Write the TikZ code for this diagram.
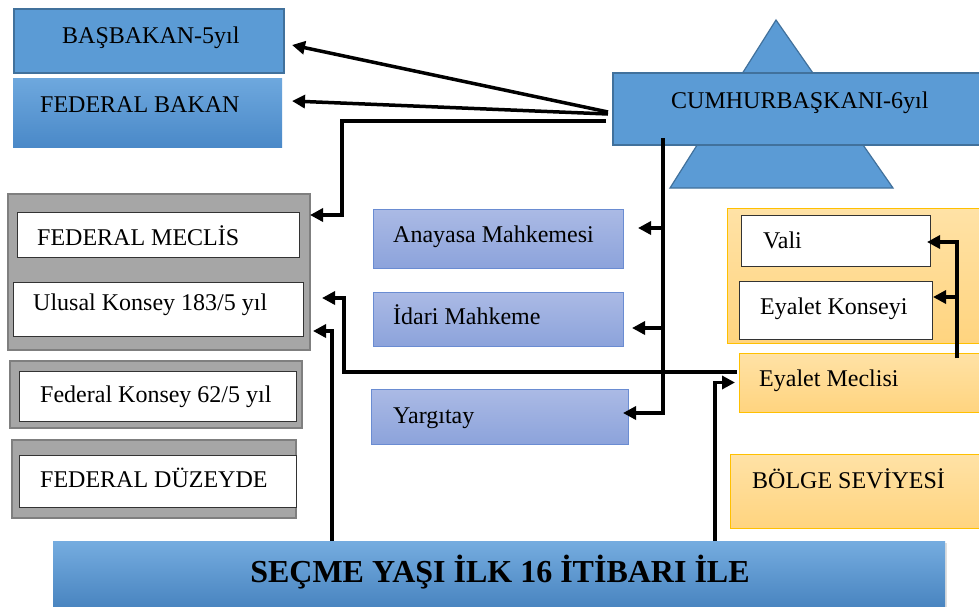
\documentclass[tikz,border=0pt]{standalone}
\usepackage{fontspec}
\setmainfont{Liberation Serif}
\usetikzlibrary{arrows.meta,calc,shadows}
\definecolor{blueA}{HTML}{5B9BD5}
\definecolor{blueAd}{HTML}{41719C}
\definecolor{blueT}{HTML}{6EA8DE}
\definecolor{blueB}{HTML}{4A89C8}
\definecolor{lavT}{HTML}{ABBAE5}
\definecolor{lavB}{HTML}{8CA3DB}
\definecolor{lavD}{HTML}{6A8CD2}
\definecolor{orT}{HTML}{FFE2A6}
\definecolor{orB}{HTML}{FFD47F}
\definecolor{orD}{HTML}{FFC000}
\definecolor{grF}{HTML}{A6A6A6}
\definecolor{grD}{HTML}{7F7F7F}
\tikzset{
  box/.style={anchor=north west, inner sep=0pt, outer sep=0pt},
  bluebox/.style={box, fill=blueA, draw=blueAd, line width=1.2pt},
  gradblue/.style={box, top color=blueT, bottom color=blueB, draw=none},
  court/.style={box, top color=lavT, bottom color=lavB, draw=lavD, line width=1pt},
  orbox/.style={box, top color=orT, bottom color=orB, draw=orD, line width=1pt},
  graybox/.style={box, fill=grF, draw=grD, line width=2pt},
  whitebox/.style={box, fill=white, draw=black!80, line width=0.8pt},
  lbl/.style={anchor=base west, inner sep=0pt, font=\fontsize{24}{28}\selectfont},
  arr/.style={line width=3.5pt, -{Triangle[length=13pt,width=13pt]}},
}
\begin{document}
\begin{tikzpicture}[x=1pt,y=-1pt]
\clip (0,0) rectangle (979,606);
\fill[white] (0,0) rectangle (979,606);

% top left blue boxes
\node[bluebox, minimum width=270pt, minimum height=64pt] (bas) at (14,9) {};
\node[lbl] (basT) at (62,43) {BAŞBAKAN-5yıl};
\node[gradblue, minimum width=269pt, minimum height=69pt] (fbakan) at (13,78) {};
\node[lbl] (fbakanT) at (40,112) {FEDERAL BAKAN};

% president
\filldraw[fill=blueA, draw=blueAd, line width=1.2pt] (776,20) -- (670,188) -- (893,188) -- cycle;
\node[bluebox, minimum width=380pt, minimum height=72pt] (cum) at (613,73) {};
\node[lbl] (cumT) at (671,108) {CUMHURBAŞKANI-6yıl};

% left gray groups
\node[graybox, minimum width=302pt, minimum height=156pt] (gray1) at (8,194) {};
\node[whitebox, minimum width=282pt, minimum height=45pt] (meclis) at (17,212) {};
\node[lbl] (meclisT) at (37,245) {FEDERAL MECLİS};
\node[whitebox, minimum width=290pt, minimum height=54pt] (ulusal) at (13,282) {};
\node[lbl] (ulusalT) at (33,310) {Ulusal Konsey 183/5 yıl};
\node[graybox, minimum width=292pt, minimum height=67pt] (gray2) at (10,361) {};
\node[whitebox, minimum width=277pt, minimum height=50pt] (fkonsey) at (19,371) {};
\node[lbl] (fkonseyT) at (40,402) {Federal Konsey 62/5 yıl};
\node[graybox, minimum width=284pt, minimum height=78pt] (gray3) at (12,440) {};
\node[whitebox, minimum width=277pt, minimum height=52pt] (duzey) at (19,455) {};
\node[lbl] (duzeyT) at (40,487) {FEDERAL DÜZEYDE};

% courts
\node[court, minimum width=250pt, minimum height=59pt] (anayasa) at (373,209) {};
\node[lbl] (anayasaT) at (393,242) {Anayasa Mahkemesi};
\node[court, minimum width=250pt, minimum height=54pt] (idari) at (373,292) {};
\node[lbl] (idariT) at (393,324) {İdari Mahkeme};
\node[court, minimum width=257pt, minimum height=55pt] (yargi) at (371,389) {};
\node[lbl] (yargiT) at (393,423) {Yargıtay};

% regional
\node[orbox, minimum width=260pt, minimum height=135pt] (orout) at (727,208) {};
\node[whitebox, minimum width=189pt, minimum height=51pt] (vali) at (741,215) {};
\node[lbl] (valiT) at (763,248) {Vali};
\node[whitebox, minimum width=193pt, minimum height=58pt] (ekonsey) at (739,281) {};
\node[lbl] (ekonseyT) at (760,314) {Eyalet Konseyi};
\node[orbox, minimum width=250pt, minimum height=59pt] (emeclis) at (739,353) {};
\node[lbl] (emeclisT) at (759,386) {Eyalet Meclisi};
\node[orbox, minimum width=260pt, minimum height=74pt] (bolge) at (730,454) {};
\node[lbl] (bolgeT) at (752,488) {BÖLGE SEVİYESİ};

% banner
\node[gradblue, top color=blueT!95!white, bottom color=blueB!95!black, minimum width=892pt, minimum height=70pt,
      drop shadow={shadow xshift=2pt, shadow yshift=-2pt, opacity=0.25}] (banner) at (53,541) {};
\node[anchor=base, inner sep=0pt, font=\fontsize{32}{36}\selectfont\bfseries] (bannerT) at (500,582) {SEÇME YAŞI İLK 16 İTİBARI İLE};

% connectors
\draw[arr] ([xshift=-5pt,yshift=-3pt]cum.west) -- ([xshift=8pt,yshift=-4pt]bas.east);
\draw[arr] ([xshift=-5pt,yshift=-5pt]cum.west) -- ([xshift=10pt,yshift=11.5pt]fbakan.east);
\draw[arr] ([xshift=-7pt,yshift=-12pt]cum.west) -| ([xshift=32pt,yshift=-21pt]gray1.north east) -- ([yshift=-21pt]gray1.north east);

\draw[arr] ([xshift=50pt,yshift=7pt]cum.south west) |- ([xshift=15pt,yshift=10.5pt]anayasa.east);
\draw[arr] ([xshift=50pt,yshift=7pt]cum.south west) |- ([xshift=9pt,yshift=-9pt]idari.east);
\draw[arr] ([xshift=50pt,yshift=7pt]cum.south west) |- ([xshift=-5pt,yshift=3.5pt]yargi.east);

\draw[arr] ([xshift=-2pt,yshift=10.5pt]emeclis.west) -| ([xshift=41pt,yshift=11pt]ulusal.east) -- ([xshift=19pt,yshift=11pt]ulusal.east);
\draw[arr] ([xshift=279pt]banner.north west) |- ([xshift=10pt,yshift=5pt]ulusal.south east);
\draw[arr] ([xshift=662pt]banner.north west) |- ([xshift=-4pt]emeclis.west);

\draw[arr] ([xshift=218pt,yshift=-5pt]emeclis.north west) |- ([xshift=-3pt,yshift=-1.5pt]vali.east);
\draw[arr] ([xshift=218pt,yshift=-5pt]emeclis.north west) |- ([xshift=1pt,yshift=13pt]ekonsey.east);
\end{tikzpicture}
\end{document}
